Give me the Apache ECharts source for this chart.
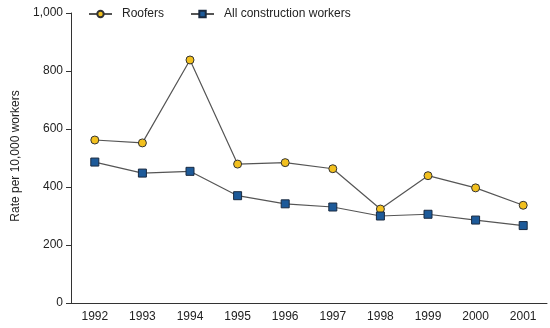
<!DOCTYPE html>
<html>
<head>
<meta charset="utf-8">
<script src="https://cdn.jsdelivr.net/npm/echarts@6/dist/echarts.min.js"></script>
<style>
  html, body { margin: 0; padding: 0; background: #fff; }
  #chart { width: 550px; height: 328px; }
</style>
</head>
<body>
<div id="chart"></div>
<script>
// Injury rates per 10,000 workers, 1992–2001
const years = ['1992', '1993', '1994', '1995', '1996', '1997', '1998', '1999', '2000', '2001'];
const roofers = [562, 552, 838, 479, 484, 463, 324, 439, 397, 337];
const allConstruction = [486, 448, 454, 370, 342, 331, 300, 306, 286, 267];
const yTicks = [0, 200, 400, 600, 800, 1000];

const font = 'Liberation Sans, Arial, Helvetica, sans-serif';
const lineColor = '#555555';

const chart = echarts.init(document.getElementById('chart'), null, { renderer: 'canvas' });
chart.setOption({
  animation: false,
  textStyle: { fontFamily: font },
  grid: { left: 71, right: 3, top: 13, bottom: 25, containLabel: false },
  legend: {
    left: 83, top: 3,
    itemWidth: 23, itemHeight: 8, itemGap: 26,
    textStyle: { fontSize: 12, color: '#222', fontFamily: font, padding: [0, 0, 0, 5] },
    data: ['Roofers', 'All construction workers']
  },
  xAxis: {
    type: 'category',
    data: years,
    boundaryGap: true,
    axisLine: { lineStyle: { color: '#333', width: 1 } },
    axisTick: { alignWithLabel: true, length: 5, lineStyle: { color: '#333' } },
    axisLabel: { fontSize: 12, color: '#222', margin: 8 }
  },
  yAxis: {
    type: 'value',
    min: yTicks[0], max: yTicks[yTicks.length - 1], interval: 200,
    name: 'Rate per 10,000 workers',
    nameLocation: 'middle', nameGap: 49, nameRotate: 90,
    nameTextStyle: { fontSize: 12, color: '#222', padding: [0, 0, 0, 4] },
    axisLine: { show: true, lineStyle: { color: '#333', width: 1 } },
    axisTick: { show: true, length: 5, lineStyle: { color: '#333' } },
    splitLine: { show: false },
    axisLabel: {
      fontSize: 12, color: '#222', margin: 8,
      formatter: v => v.toLocaleString('en-US')
    }
  },
  series: [
    {
      name: 'Roofers', type: 'line', data: roofers,
      symbol: 'circle', symbolSize: 8,
      lineStyle: { color: lineColor, width: 1.2 },
      itemStyle: { color: '#f2c01e', borderColor: '#333', borderWidth: 1 }
    },
    {
      name: 'All construction workers', type: 'line', data: allConstruction,
      symbol: 'rect', symbolSize: 8,
      lineStyle: { color: lineColor, width: 1.2 },
      itemStyle: { color: '#1d5a99', borderColor: '#1a2a40', borderWidth: 1 }
    }
  ]
});
</script>
</body>
</html>
